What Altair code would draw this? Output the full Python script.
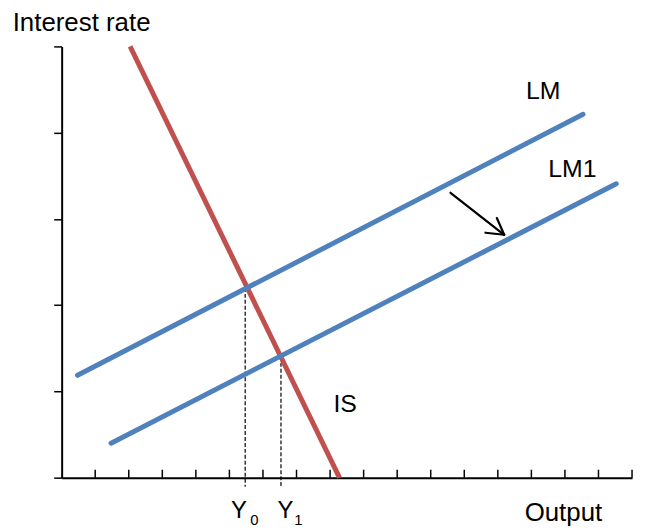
import altair as alt
import pandas as pd

# ---- data ----
is_x = [2.04, 8.28]
is_y = [5.0, 0.0]
lm_x = [0.474, 15.54]
lm_y = [1.187, 4.213]
lm1_x = [1.472, 16.53]
lm1_y = [0.400, 3.407]

drop_x = [5.47, 6.537]
drop_top = [2.2, 1.40]
drop_bottom = [-0.104, -0.104]

arrow_x = [11.59, 12.63, 12.97]
arrow_y = [3.303, 2.84, 3.01]
arrow_tip_x = [13.19, 13.19, 13.19]
arrow_tip_y = [2.816, 2.816, 2.816]

x_tick_values = list(range(1, 18))
y_tick_values = [0, 1, 2, 3, 4, 5]

labels = ["LM", "LM1", "IS", "Output", "Y", "Y", "Interest rate"]
label_x = [13.84, 14.50, 8.10, 13.80, 5.05, 6.43, -1.46]
label_y = [4.386, 3.483, 0.760, -0.507, -0.472, -0.472, 5.173]
label_size = [25, 25, 25, 26, 24, 24, 26]

subs = ["0", "1"]
sub_x = [5.619, 6.931]
sub_y = [-0.550, -0.550]

RED = "#C0504D"
BLUE = "#4F81BD"
FONT = "Liberation Sans"

xs = alt.Scale(domain=[0, 17], nice=False, zero=False)
ys = alt.Scale(domain=[0, 5], nice=False, zero=False)
x_axis = alt.Axis(ticks=False, labels=False, grid=False, title=None,
                  domainColor="black", domainWidth=2, values=x_tick_values)
y_axis = alt.Axis(labels=False, grid=False, title=None, values=y_tick_values,
                  tickSize=8, tickWidth=1.5, tickColor="black",
                  domainColor="black", domainWidth=2)

def X(f):
    return alt.X(f, type="quantitative", scale=xs, axis=x_axis)

def Y(f):
    return alt.Y(f, type="quantitative", scale=ys, axis=y_axis)

is_df = pd.DataFrame({"x": is_x, "y": is_y})
lm_df = pd.DataFrame({"x": lm_x, "y": lm_y})
lm1_df = pd.DataFrame({"x": lm1_x, "y": lm1_y})

is_line = alt.Chart(is_df).mark_line(color=RED, strokeWidth=5, strokeCap="butt").encode(x=X("x"), y=Y("y"))
lm_line = alt.Chart(lm_df).mark_line(color=BLUE, strokeWidth=5, strokeCap="round").encode(x=X("x"), y=Y("y"))
lm1_line = alt.Chart(lm1_df).mark_line(color=BLUE, strokeWidth=5, strokeCap="round").encode(x=X("x"), y=Y("y"))

drop_df = pd.DataFrame({"x": drop_x, "y": drop_top, "y2": drop_bottom})
drops = alt.Chart(drop_df).mark_rule(color="black", strokeWidth=1.2, strokeDash=[4, 2]).encode(
    x=X("x"), y=Y("y"), y2="y2")

tick_df = pd.DataFrame({"x": x_tick_values, "y": [0] * len(x_tick_values), "y2": [0.092] * len(x_tick_values)})
ticks = alt.Chart(tick_df).mark_rule(color="black", strokeWidth=1.5).encode(x=X("x"), y=Y("y"), y2="y2")

arrow_df = pd.DataFrame({"x": arrow_x, "y": arrow_y, "x2": arrow_tip_x, "y2": arrow_tip_y})
arrow = alt.Chart(arrow_df).mark_rule(color="black", strokeWidth=2.2, strokeCap="round").encode(
    x=X("x"), y=Y("y"), x2="x2", y2="y2")

text_df = pd.DataFrame({"t": labels, "x": label_x, "y": label_y, "s": label_size})
texts = alt.Chart(text_df).mark_text(align="left", baseline="alphabetic", font=FONT,
                                      color="black").encode(
    x=X("x"), y=Y("y"), text="t", size=alt.Size("s", type="quantitative", scale=None, legend=None))

sub_df = pd.DataFrame({"t": subs, "x": sub_x, "y": sub_y})
sub_texts = alt.Chart(sub_df).mark_text(align="left", baseline="alphabetic", font=FONT,
                                         fontSize=15, color="black").encode(x=X("x"), y=Y("y"), text="t")

chart = alt.layer(ticks, drops, is_line, lm_line, lm1_line, arrow, texts, sub_texts).properties(
    width=574, height=434,
    autosize=alt.AutoSizeParams(type="none"),
    padding={"left": 54, "top": 37, "right": 5, "bottom": 50},
    background="white",
).configure_view(stroke="transparent")

chart.save("out.html", embed_options={"renderer": "svg", "actions": False})
